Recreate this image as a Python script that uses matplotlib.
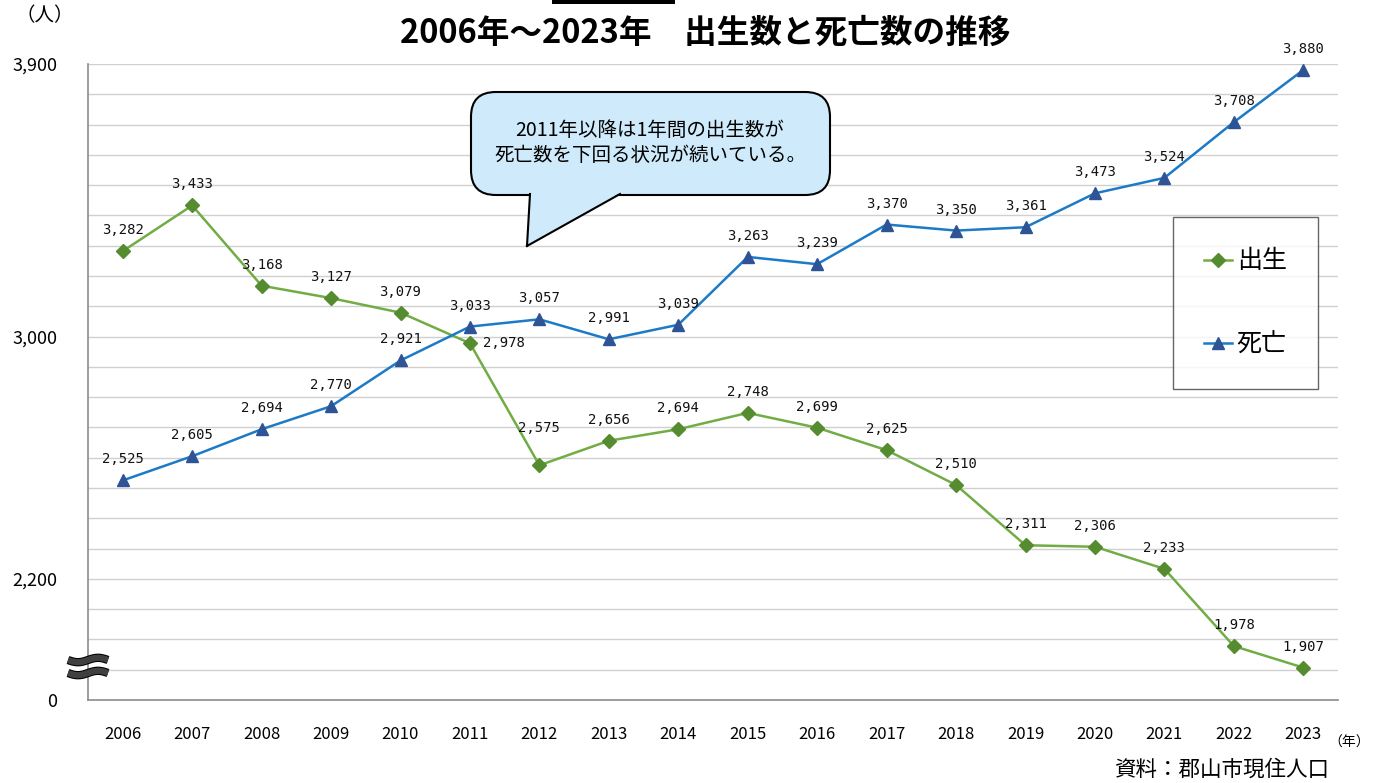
import matplotlib
matplotlib.use('Agg')
import matplotlib.pyplot as plt
from matplotlib.patches import Rectangle, FancyBboxPatch, Polygon
from matplotlib.lines import Line2D
import matplotlib.patheffects as pe
import numpy as np

plt.rcParams['font.family'] = ['Noto Sans CJK JP', 'DejaVu Sans']

years = [2006, 2007, 2008, 2009, 2010, 2011, 2012, 2013, 2014,
         2015, 2016, 2017, 2018, 2019, 2020, 2021, 2022, 2023]
births = [3282, 3433, 3168, 3127, 3079, 2978, 2575, 2656, 2694,
          2748, 2699, 2625, 2510, 2311, 2306, 2233, 1978, 1907]
deaths = [2525, 2605, 2694, 2770, 2921, 3033, 3057, 2991, 3039,
          3263, 3239, 3370, 3350, 3361, 3473, 3524, 3708, 3880]
ytick_vals = [1800, 2200, 3000, 3900]
ytick_labels = ['0', '2,200', '3,000', '3,900']

W, H = 1378, 783
fig = plt.figure(figsize=(W / 100, H / 100), dpi=100)


def px(x, y):
    return x / W, 1 - y / H


ax = fig.add_axes([88 / W, 1 - 700 / H, (1338 - 88) / W, (700 - 64) / H])
x = np.arange(len(years))

ax.set_xlim(-0.5, len(years) - 0.5)
ax.set_ylim(1800, 3900)

# 目盛り線 (100人ごと)
ax.set_yticks(np.arange(1900, 4000, 100), minor=True)
ax.grid(True, which='minor', axis='y', color='#d0d0d0', lw=1)
ax.set_yticks(ytick_vals)
ax.set_yticklabels(ytick_labels, fontsize=13)
ax.grid(True, which='major', axis='y', color='#d0d0d0', lw=1)
ax.tick_params(axis='y', which='both', length=0, pad=22)
ax.set_xticks(x)
ax.set_xticklabels([str(y) for y in years], fontsize=12)
ax.tick_params(axis='x', length=0, pad=19)
ax.set_axisbelow(True)
for s in ['top', 'right']:
    ax.spines[s].set_visible(False)
for s in ['left', 'bottom']:
    ax.spines[s].set_color('#8c8c8c')
    ax.spines[s].set_linewidth(1.2)

ax.plot(x, births, color='#72ac45', lw=1.8, marker='D', ms=7,
        mfc='#568c30', mec='#568c30', label='出生', zorder=3)
ax.plot(x, deaths, color='#1c7ac6', lw=1.8, marker='^', ms=8,
        mfc='#2e5496', mec='#2e5496', label='死亡', zorder=3)

lab_kw = dict(fontsize=10, family='DejaVu Sans Mono', color='#111111',
              ha='center', va='bottom')
for i, v in enumerate(births):
    if years[i] == 2011:
        ax.annotate(f'{v:,}', (i, v), xytext=(34, 0), textcoords='offset pixels',
                    **{**lab_kw, 'va': 'center'})
    elif years[i] == 2012:
        ax.annotate(f'{v:,}', (i, v), xytext=(0, 30), textcoords='offset pixels', **lab_kw)
    else:
        ax.annotate(f'{v:,}', (i, v), xytext=(0, 14), textcoords='offset pixels', **lab_kw)
for i, v in enumerate(deaths):
    ax.annotate(f'{v:,}', (i, v), xytext=(0, 14), textcoords='offset pixels', **lab_kw)

# 凡例
leg = ax.legend(loc='upper left', bbox_to_anchor=px(1173, 217),
                bbox_transform=fig.transFigure, fontsize=18, frameon=True,
                fancybox=False, edgecolor='#404040', labelspacing=2.3,
                borderpad=1.25, handlelength=1.1, handletextpad=0.2,
                borderaxespad=0)
leg.get_frame().set_linewidth(1)

# 吹き出し
fill = '#cfeafb'
box = FancyBboxPatch(px(471, 195), (830 - 471) / W, (195 - 92) / H,
                     boxstyle='round,pad=0,rounding_size=0.018',
                     transform=fig.transFigure, fc=fill, ec='black', lw=1.5,
                     mutation_aspect=W / H, zorder=5)
fig.patches.append(box)
fig.patches.append(Polygon([px(530, 193), px(527, 246), px(620, 193)],
                           transform=fig.transFigure, fc=fill, ec='none', zorder=6))
for (x0, y0) in [(530, 194), (620, 194)]:
    fig.lines.append(Line2D([px(x0, y0)[0], px(527, 246)[0]],
                            [px(x0, y0)[1], px(527, 246)[1]],
                            transform=fig.transFigure, color='black', lw=1.5, zorder=7))
fig.text(*px(650, 143), '2011年以降は1年間の出生数が\n死亡数を下回る状況が続いている。',
         ha='center', va='center', fontsize=14, linespacing=1.25, zorder=8)

# タイトル
fig.text(*px(705, 33), '2006年～2023年　出生数と死亡数の推移', ha='center', va='center',
         fontsize=23.5, fontweight='bold')
fig.patches.append(Rectangle(px(552, 4), (675 - 552) / W, 4 / H,
                             transform=fig.transFigure, fc='black', ec='none'))

fig.text(*px(45, 16), '（人）', ha='center', va='center', fontsize=14)
fig.text(*px(1349, 743), '（年）', ha='center', va='center', fontsize=10)
fig.text(*px(1222, 770), '資料：郡山市現住人口', ha='center', va='center', fontsize=15.5)

# 軸の省略記号
t = np.linspace(0, 1, 30)
for y0 in (660, 673):
    xs = 68 + 40 * t
    ys = y0 + 2.2 * np.sin(2 * np.pi * t)
    pts = [px(a, b) for a, b in zip(xs, ys)]
    fig.lines.append(Line2D([p[0] for p in pts], [p[1] for p in pts],
                            transform=fig.transFigure, color='#404040', lw=4.5,
                            solid_capstyle='butt', zorder=10,
                            path_effects=[pe.Stroke(linewidth=6, foreground='black'), pe.Normal()]))

fig.savefig('out.png', dpi=100, facecolor='white')
